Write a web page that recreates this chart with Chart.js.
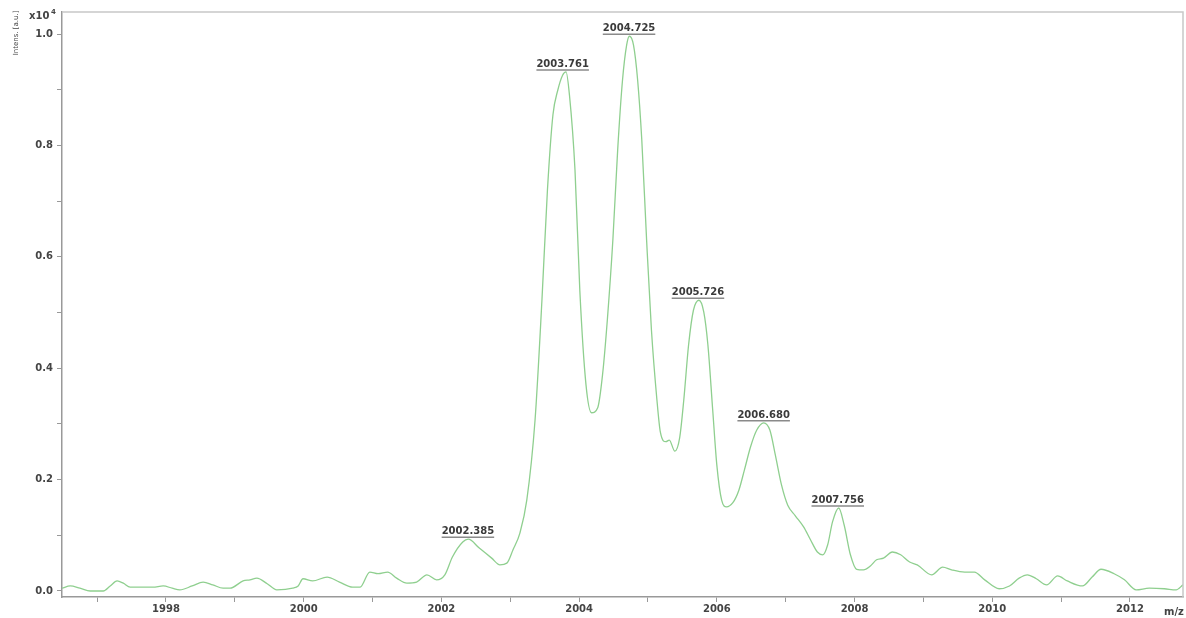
<!DOCTYPE html>
<html>
<head>
<meta charset="utf-8">
<script src="https://cdn.jsdelivr.net/npm/chart.js@4.4.1/dist/chart.umd.min.js"></script>
<style>
    body { margin: 0; background: #fff; }
    #wrap { width: 1186px; height: 618px; }
</style>
</head>
<body>
<div id="wrap"><canvas id="espectro" width="1186" height="618"></canvas></div>
<script>
// spectrum (m/z, intensity x10^4)
const mz = [
    1996.49, 1996.61, 1996.75, 1996.90, 1997.09, 1997.19, 1997.29, 1997.38, 1997.48, 1997.81,
    1997.96, 1998.09, 1998.20, 1998.38, 1998.54, 1998.68, 1998.83, 1998.93, 1999.12, 1999.22,
    1999.32, 1999.47, 1999.61, 1999.84, 1999.92, 1999.99, 2000.13, 2000.34, 2000.52, 2000.71,
    2000.82, 2000.96, 2001.08, 2001.22, 2001.35, 2001.50, 2001.64, 2001.79, 2001.93, 2002.05,
    2002.16, 2002.31, 2002.39, 2002.55, 2002.73, 2002.85, 2002.95, 2003.04, 2003.14, 2003.24,
    2003.36, 2003.46, 2003.54, 2003.62, 2003.69, 2003.76, 2003.81, 2003.86, 2003.94, 2004.01,
    2004.10, 2004.18, 2004.27, 2004.34, 2004.41, 2004.49, 2004.56, 2004.63, 2004.69, 2004.73,
    2004.79, 2004.85, 2004.91, 2004.98, 2005.05, 2005.13, 2005.18, 2005.26, 2005.31, 2005.39,
    2005.46, 2005.52, 2005.59, 2005.66, 2005.74, 2005.81, 2005.87, 2005.94, 2006.00, 2006.07,
    2006.14, 2006.23, 2006.32, 2006.40, 2006.49, 2006.58, 2006.68, 2006.77, 2006.85, 2006.94,
    2007.03, 2007.14, 2007.26, 2007.36, 2007.46, 2007.54, 2007.61, 2007.68, 2007.77, 2007.85,
    2007.94, 2008.03, 2008.13, 2008.23, 2008.32, 2008.42, 2008.55, 2008.67, 2008.80, 2008.91,
    2009.12, 2009.28, 2009.41, 2009.60, 2009.74, 2009.89, 2010.10, 2010.25, 2010.39, 2010.51,
    2010.64, 2010.79, 2010.95, 2011.09, 2011.31, 2011.45, 2011.58, 2011.77, 2011.92, 2012.09,
    2012.28, 2012.50, 2012.67, 2012.77
];
const intensidade = [
    0.005, 0.009, 0.005, 0.000, 0.000, 0.009, 0.018, 0.014, 0.007, 0.007,
    0.009, 0.005, 0.002, 0.009, 0.016, 0.011, 0.005, 0.005, 0.018, 0.020,
    0.023, 0.013, 0.002, 0.005, 0.009, 0.022, 0.018, 0.025, 0.016, 0.007,
    0.007, 0.034, 0.031, 0.034, 0.023, 0.014, 0.016, 0.029, 0.020, 0.029,
    0.061, 0.088, 0.093, 0.077, 0.059, 0.047, 0.050, 0.074, 0.104, 0.163,
    0.307, 0.522, 0.720, 0.855, 0.899, 0.926, 0.932, 0.890, 0.756, 0.540,
    0.370, 0.320, 0.329, 0.388, 0.487, 0.630, 0.792, 0.917, 0.980, 0.996,
    0.980, 0.917, 0.810, 0.630, 0.469, 0.343, 0.285, 0.268, 0.271, 0.251,
    0.275, 0.343, 0.442, 0.504, 0.522, 0.501, 0.442, 0.325, 0.226, 0.163,
    0.151, 0.158, 0.181, 0.217, 0.259, 0.289, 0.302, 0.289, 0.244, 0.190,
    0.154, 0.135, 0.115, 0.092, 0.070, 0.065, 0.083, 0.124, 0.149, 0.118,
    0.065, 0.039, 0.038, 0.045, 0.056, 0.059, 0.070, 0.065, 0.052, 0.047,
    0.029, 0.043, 0.038, 0.034, 0.034, 0.020, 0.004, 0.009, 0.023, 0.029,
    0.022, 0.011, 0.027, 0.018, 0.009, 0.025, 0.039, 0.031, 0.020, 0.002,
    0.005, 0.004, 0.002, 0.011
];

// labelled peaks
const picosMz = [2002.385, 2003.761, 2004.725, 2005.726, 2006.680, 2007.756];
const picosInt = [0.093, 0.932, 0.996, 0.522, 0.302, 0.149];

// axis ticks
const ticksX = [1997, 1998, 1999, 2000, 2001, 2002, 2003, 2004, 2005, 2006, 2007, 2008, 2009, 2010, 2011, 2012];
const ticksY = [0, 0.1, 0.2, 0.3, 0.4, 0.5, 0.6, 0.7, 0.8, 0.9, 1.0];

const FONTE = 'bold 10px "DejaVu Sans", sans-serif';

const rotulosPlugin = {
    id: 'rotulos',
    afterDraw(chart) {
        const { ctx, chartArea: area, scales: { x, y } } = chart;
        ctx.save();

        // top / right frame
        ctx.strokeStyle = '#c8c8c8';
        ctx.lineWidth = 1.5;
        ctx.beginPath();
        ctx.moveTo(area.left, area.top);
        ctx.lineTo(area.right, area.top);
        ctx.lineTo(area.right, area.bottom);
        ctx.stroke();

        // peak labels with underline
        ctx.font = FONTE;
        ctx.textAlign = 'center';
        ctx.textBaseline = 'alphabetic';
        picosMz.forEach((valor, i) => {
            const px = x.getPixelForValue(valor);
            const py = y.getPixelForValue(picosInt[i]);
            const texto = valor.toFixed(3);
            const largura = ctx.measureText(texto).width;
            ctx.fillStyle = '#3a3a3a';
            ctx.fillText(texto, px, py - 5);
            ctx.strokeStyle = '#8a8a8a';
            ctx.lineWidth = 1.5;
            ctx.beginPath();
            ctx.moveTo(px - largura / 2, py - 2);
            ctx.lineTo(px + largura / 2, py - 2);
            ctx.stroke();
        });

        // axis captions
        ctx.fillStyle = '#444';
        ctx.textAlign = 'left';
        ctx.font = 'bold 10px "DejaVu Sans", sans-serif';
        ctx.fillText('x10', 29, 19);
        ctx.font = 'bold 7px "DejaVu Sans", sans-serif';
        ctx.fillText('4', 51, 14);

        ctx.font = 'bold 10px "DejaVu Sans", sans-serif';
        ctx.fillText('m/z', 1164, 615);

        ctx.translate(18, 33);
        ctx.rotate(-Math.PI / 2);
        ctx.textAlign = 'center';
        ctx.font = '7px "DejaVu Sans", sans-serif';
        ctx.fillText('Intens. [a.u.]', 0, 0);

        ctx.restore();
    }
};

new Chart(document.getElementById('espectro'), {
    type: 'line',
    data: {
        datasets: [{
            data: mz.map((v, i) => ({ x: v, y: intensidade[i] })),
            borderColor: '#8fcf8f',
            borderWidth: 1.3,
            pointRadius: 0,
            fill: false,
            cubicInterpolationMode: 'monotone'
        }]
    },
    options: {
        responsive: false,
        animation: false,
        layout: { padding: { top: 12, right: 3, left: 0, bottom: 0 } },
        plugins: { legend: { display: false }, tooltip: { enabled: false } },
        scales: {
            x: {
                type: 'linear',
                min: 1996.49,
                max: 2012.77,
                afterBuildTicks: escala => { escala.ticks = ticksX.map(v => ({ value: v })); },
                afterFit: escala => { escala.height = 21; },
                grid: { drawOnChartArea: false, drawTicks: true, tickLength: 5, color: '#999', lineWidth: 1 },
                border: { color: '#999', width: 1.5 },
                ticks: {
                    autoSkip: false,
                    maxRotation: 0,
                    padding: 1,
                    color: '#444',
                    font: { family: '"DejaVu Sans", sans-serif', size: 10, weight: 'bold' },
                    callback: valor => (valor % 2 === 0 ? String(valor) : '')
                }
            },
            y: {
                min: -0.0108,
                max: 1.0395,
                afterBuildTicks: escala => { escala.ticks = ticksY.map(v => ({ value: v })); },
                afterFit: escala => { escala.width = 62; },
                grid: { drawOnChartArea: false, drawTicks: true, tickLength: 5, color: '#999', lineWidth: 1 },
                border: { color: '#999', width: 1.5 },
                ticks: {
                    padding: 4,
                    color: '#444',
                    font: { family: '"DejaVu Sans", sans-serif', size: 10, weight: 'bold' },
                    callback: valor => (Math.round(valor * 10) % 2 === 0 ? valor.toFixed(1) : '')
                }
            }
        }
    },
    plugins: [rotulosPlugin]
});
</script>
</body>
</html>
